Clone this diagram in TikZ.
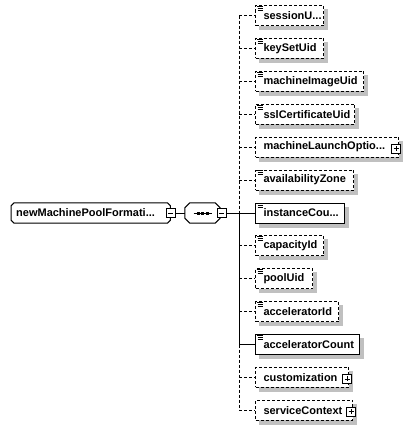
\documentclass[tikz,border=0pt]{standalone}
\usepackage{fontspec}
\setmainfont{Liberation Sans}
\pgfdeclarelayer{background}
\pgfsetlayers{background,main}
\definecolor{shadowgray}{HTML}{C0C0C0}
\tikzset{
  lbl/.style={font=\fontsize{11}{13}\selectfont\bfseries, text=black},
  elem/.style={lbl, draw=black, line width=1pt, fill=white, anchor=west,
    minimum height=20pt, inner ysep=0pt, inner xsep=8pt, align=left},
  opt/.style={dash pattern=on 3pt off 2pt},
  conn/.style={line width=1pt, draw=black},
  pmbox/.style={draw=black, fill=white, line width=0.8pt, minimum size=9pt, inner sep=0pt},
  plusbox/.style={pmbox, path picture={
      \draw[line width=0.8pt] ([xshift=2pt]path picture bounding box.west) -- ([xshift=-2pt]path picture bounding box.east);
      \draw[line width=0.8pt] ([yshift=-2pt]path picture bounding box.north) -- ([yshift=2pt]path picture bounding box.south);}},
  minusbox/.style={pmbox, path picture={
      \draw[line width=0.8pt] ([xshift=2pt]path picture bounding box.west) -- ([xshift=-2pt]path picture bounding box.east);}}
}
\newcommand\typeicon[1]{%
  \draw[line width=0.7pt] ([xshift=1.5pt,yshift=-1.2pt]#1.north west) -- ++(6pt,0pt);
  \draw[line width=0.7pt] ([xshift=2.5pt,yshift=-3.2pt]#1.north west) -- ++(5pt,0pt);
  \draw[line width=0.7pt] ([xshift=2.5pt,yshift=-5.2pt]#1.north west) -- ++(5pt,0pt);}
\newcommand\chamferpath[2]{([xshift=#2]#1.north west) -- ([xshift=-#2]#1.north east) -- ([yshift=-#2]#1.north east) -- ([yshift=#2]#1.south east) -- ([xshift=-#2]#1.south east) -- ([xshift=#2]#1.south west) -- ([yshift=#2]#1.south west) -- ([yshift=-#2]#1.north west) -- cycle}
\begin{document}
\begin{tikzpicture}[x=1pt,y=-1pt]
\useasboundingbox (0,0) rectangle (411,431);
\begin{pgfonlayer}{background}
  \fill[white] (0,0) rectangle (411,431);
\end{pgfonlayer}

% root element
\node[lbl, anchor=west, minimum height=20pt, inner ysep=0pt, inner xsep=5pt, text width=149pt, align=left] (root) at (11,213) {newMachinePoolFormati...};
% sequence compositor
\node[minimum width=35pt, minimum height=20pt, inner sep=0pt] (seq) at (202.5,213) {};
\begin{pgfonlayer}{background}
  \fill[shadowgray, xshift=4pt, yshift=-4pt] \chamferpath{root}{3pt};
  \fill[white] \chamferpath{root}{3pt};
  \fill[shadowgray, xshift=4pt, yshift=-4pt] \chamferpath{seq}{5pt};
  \fill[white] \chamferpath{seq}{5pt};
\end{pgfonlayer}
\draw[line width=1pt] \chamferpath{root}{3pt};
\draw[line width=1pt] \chamferpath{seq}{5pt};
\draw[line width=1pt] ([xshift=-9pt]seq.center) -- ([xshift=9pt]seq.center);
\foreach \dx in {-6,-1.5,3} \fill ([xshift=\dx pt, yshift=-1.5pt]seq.center) rectangle ++(3pt,3pt);
\node[minusbox] (rootminus) at (root.east) {};
\node[minusbox] (seqminus) at ([xshift=1.5pt]seq.east) {};
\draw[conn] (rootminus.east) -- (seq.west);

% children
\node[elem, opt, text width=52pt] (e1) at (255,15.5) {sessionU...};
\node[elem, opt, text width=52pt] (e2) at (255,48.4) {keySetUid};
\node[elem, opt, text width=92pt] (e3) at (255,81.3) {machineImageUid};
\node[elem, opt, text width=83pt] (e4) at (255,114.2) {sslCertificateUid};
\node[elem, opt, text width=127pt] (e5) at (255,147.1) {machineLaunchOptio...};
\node[elem, opt, text width=82pt] (e6) at (255,180) {availabilityZone};
\node[elem, text width=73pt] (e7) at (255,213) {instanceCou...};
\node[elem, opt, text width=52pt] (e8) at (255,245.8) {capacityId};
\node[elem, opt, text width=41pt] (e9) at (255,278.7) {poolUid};
\node[elem, opt, text width=67pt] (e10) at (255,311.6) {acceleratorId};
\node[elem, text width=88pt] (e11) at (255,344.5) {acceleratorCount};
\node[elem, opt, text width=77pt] (e12) at (255,377.4) {customization};
\node[elem, opt, text width=81pt] (e13) at (255,410.3) {serviceContext};

\begin{pgfonlayer}{background}
  \foreach \n in {e1,e2,e3,e4,e5,e6,e7,e8,e9,e10,e11,e12,e13}
    {\fill[shadowgray] ([xshift=4pt,yshift=-4pt]\n.north west) rectangle ([xshift=4pt,yshift=-4pt]\n.south east);}
\end{pgfonlayer}

\foreach \n in {e1,e2,e3,e4,e6,e7,e8,e9,e10,e11} {\typeicon{\n}}
\node[plusbox] (p5) at ([xshift=-3pt,yshift=-1.5pt]e5.east) {};
\node[plusbox] (p12) at ([xshift=-2pt,yshift=-1.5pt]e12.east) {};
\node[plusbox] (p13) at ([xshift=-2pt,yshift=-1.5pt]e13.east) {};

% spine
\coordinate (spine) at (239,213);
\draw[conn] (seqminus.east) -- (spine);
\draw[conn, opt] (spine |- e1.west) -- (spine |- e7.west);
\draw[conn] (spine |- e7.west) -- (spine |- e11.west);
\draw[conn, opt] (spine |- e11.west) -- (spine |- e13.west);
\foreach \n in {e1,e2,e3,e4,e5,e6,e8,e9,e10,e12,e13} {\draw[conn, opt] (spine |- \n.west) -- (\n.west);}
\foreach \n in {e7,e11} {\draw[conn] (spine |- \n.west) -- (\n.west);}
\end{tikzpicture}
\end{document}
